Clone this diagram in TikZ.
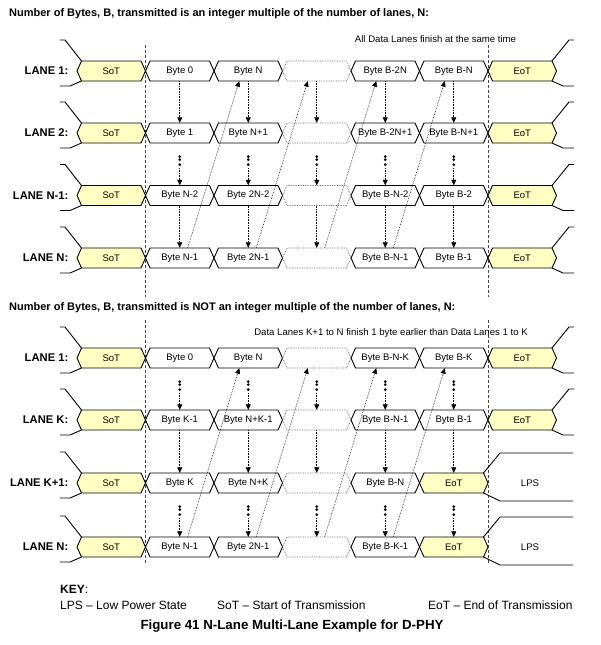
\documentclass[tikz,border=0pt]{standalone}
\usepackage{fontspec}
\setmainfont{Liberation Sans}
\usetikzlibrary{arrows.meta}
\definecolor{sotfill}{RGB}{255,255,196}
\definecolor{markline}{RGB}{70,70,70}
\definecolor{idleline}{RGB}{90,90,90}

% one lane slot: [style]{name}{x}{y}{text}
\newcommand{\bytecell}[5][cellline]{%
  \draw[#1] (#3-34.25,#4) -- ++(4.5,-10) -- ++(59.5,0) -- ++(4.5,10) -- ++(-4.5,10) -- ++(-59.5,0) -- cycle;
  \node[cellbox] (#2) at (#3,#4) {#5};%
}
% bus edges left of SoT, right of EoT, and into LPS
\newcommand{\busleft}[1]{\draw[busline] (60,#1-31) -- (65,#1-31) -- (81.5,#1-10) (81.5,#1+10) -- (70,#1+15) -- (60,#1+15);}
\newcommand{\busright}[1]{\draw[busline] (552,#1-10) -- (569,#1-31) -- (574,#1-31) (552,#1+10) -- (563,#1+15) -- (574,#1+15);}
\newcommand{\buslps}[1]{\draw[busline] (483.5,#1-10) -- (500,#1-30) -- (573,#1-30) (483.5,#1+10) -- (500,#1+18) -- (573,#1+18);}
% skipped lanes: dots, then a short arrow
\newcommand{\lanegap}[2]{%
  \fill ([yshift=-13.5pt]#1.south) circle (1.5pt) ([yshift=-16.5pt]#1.south) circle (1.5pt) ([yshift=-21.5pt]#1.south) circle (1.5pt);
  \draw[flow] ([yshift=-25pt]#1.south) -- (#2.north);%
}

\begin{document}
\begin{tikzpicture}[
    x=1pt, y=-1pt,
    >={Triangle[length=5.5pt, width=5pt]},
    cellbox/.style={minimum width=68.5pt, minimum height=20pt, inner sep=0pt, font=\fontsize{9.5}{11}\selectfont},
    cellline/.style={draw=black, line width=0.9pt},
    sotcell/.style={cellline, fill=sotfill},
    idlecell/.style={draw=idleline, densely dotted, line width=0.7pt},
    flow/.style={->, densely dotted, line width=0.6pt},
    busline/.style={line width=0.9pt},
    marker/.style={draw=markline, dash pattern=on 3pt off 2pt, line width=0.6pt},
    lanelabel/.style={anchor=east, inner sep=0pt, font=\bfseries\fontsize{11.2}{13}\selectfont},
    heading/.style={anchor=west, inner sep=0pt, font=\bfseries\fontsize{11}{13}\selectfont},
    note/.style={inner sep=0pt, font=\fontsize{9.6}{11}\selectfont},
    keytext/.style={anchor=west, inner sep=0pt, font=\fontsize{12}{14}\selectfont}
]
\useasboundingbox (0,0) rectangle (600,645);

% SoT / EoT markers
\draw[marker] (145.5,45) -- (145.5,297) (145.5,320) -- (145.5,563);
\draw[marker] (488,45) -- (488,297) (488,320) -- (488,563);

% 1. B IS A MULTIPLE OF N
\node[heading] (HEAD_TOP) at (9,14) {Number of Bytes, B, transmitted is an integer multiple of the number of lanes, N:};
\node[note] (NOTE_TOP) at (435.5,39) {All Data Lanes finish at the same time};

% Lane 1
\node[lanelabel] (TOP1_L) at (68.5,71) {LANE 1:};
\busleft{71}
\bytecell[sotcell]{TOP1_1}{111.25}{71}{SoT}
\bytecell{TOP1_2}{179.75}{71}{Byte 0}
\bytecell{TOP1_3}{248.25}{71}{Byte N}
\bytecell[idlecell]{TOP1_4}{316.75}{71}{}
\bytecell{TOP1_5}{385.25}{71}{Byte B-2N}
\bytecell{TOP1_6}{453.75}{71}{Byte B-N}
\bytecell[sotcell]{TOP1_7}{522.25}{71}{EoT}
\busright{71}

% Lane 2
\node[lanelabel] (TOP2_L) at (68.5,133) {LANE 2:};
\busleft{133}
\bytecell[sotcell]{TOP2_1}{111.25}{133}{SoT}
\bytecell{TOP2_2}{179.75}{133}{Byte 1}
\bytecell{TOP2_3}{248.25}{133}{Byte N+1}
\bytecell[idlecell]{TOP2_4}{316.75}{133}{}
\bytecell{TOP2_5}{385.25}{133}{Byte B-2N+1}
\bytecell{TOP2_6}{453.75}{133}{Byte B-N+1}
\bytecell[sotcell]{TOP2_7}{522.25}{133}{EoT}
\busright{133}

% Lane N-1
\node[lanelabel] (TOP3_L) at (68.5,195.5) {LANE N-1:};
\busleft{195.5}
\bytecell[sotcell]{TOP3_1}{111.25}{195.5}{SoT}
\bytecell{TOP3_2}{179.75}{195.5}{Byte N-2}
\bytecell{TOP3_3}{248.25}{195.5}{Byte 2N-2}
\bytecell[idlecell]{TOP3_4}{316.75}{195.5}{}
\bytecell{TOP3_5}{385.25}{195.5}{Byte B-N-2}
\bytecell{TOP3_6}{453.75}{195.5}{Byte B-2}
\bytecell[sotcell]{TOP3_7}{522.25}{195.5}{EoT}
\busright{195.5}

% Lane N
\node[lanelabel] (TOP4_L) at (68.5,258) {LANE N:};
\busleft{258}
\bytecell[sotcell]{TOP4_1}{111.25}{258}{SoT}
\bytecell{TOP4_2}{179.75}{258}{Byte N-1}
\bytecell{TOP4_3}{248.25}{258}{Byte 2N-1}
\bytecell[idlecell]{TOP4_4}{316.75}{258}{}
\bytecell{TOP4_5}{385.25}{258}{Byte B-N-1}
\bytecell{TOP4_6}{453.75}{258}{Byte B-1}
\bytecell[sotcell]{TOP4_7}{522.25}{258}{EoT}
\busright{258}

% Byte order arrows
\foreach \c in {2,...,6} {
  \draw[flow] (TOP1_\c) -- (TOP2_\c);
  \lanegap{TOP2_\c}{TOP3_\c}
  \draw[flow] (TOP3_\c) -- (TOP4_\c);
}
\foreach \c/\n in {2/3,3/4,4/5,5/6}
  \draw[flow] ([xshift=8pt]TOP4_\c.north) -- ([xshift=-9pt]TOP1_\n.south);

% 2. B IS NOT A MULTIPLE OF N
\node[heading] (HEAD_BOT) at (9,308) {Number of Bytes, B, transmitted is NOT an integer multiple of the number of lanes, N:};
\node[note] (NOTE_BOT) at (391,333) {Data Lanes K+1 to N finish 1 byte earlier than Data Lanes 1 to K};

% Lane 1
\node[lanelabel] (BOT1_L) at (68.5,358) {LANE 1:};
\busleft{358}
\bytecell[sotcell]{BOT1_1}{111.25}{358}{SoT}
\bytecell{BOT1_2}{179.75}{358}{Byte 0}
\bytecell{BOT1_3}{248.25}{358}{Byte N}
\bytecell[idlecell]{BOT1_4}{316.75}{358}{}
\bytecell{BOT1_5}{385.25}{358}{Byte B-N-K}
\bytecell{BOT1_6}{453.75}{358}{Byte B-K}
\bytecell[sotcell]{BOT1_7}{522.25}{358}{EoT}
\busright{358}

% Lane K
\node[lanelabel] (BOT2_L) at (68.5,420) {LANE K:};
\busleft{420}
\bytecell[sotcell]{BOT2_1}{111.25}{420}{SoT}
\bytecell{BOT2_2}{179.75}{420}{Byte K-1}
\bytecell{BOT2_3}{248.25}{420}{Byte N+K-1}
\bytecell[idlecell]{BOT2_4}{316.75}{420}{}
\bytecell{BOT2_5}{385.25}{420}{Byte B-N-1}
\bytecell{BOT2_6}{453.75}{420}{Byte B-1}
\bytecell[sotcell]{BOT2_7}{522.25}{420}{EoT}
\busright{420}

% Lane K+1
\node[lanelabel] (BOT3_L) at (68.5,483) {LANE K+1:};
\busleft{483}
\bytecell[sotcell]{BOT3_1}{111.25}{483}{SoT}
\bytecell{BOT3_2}{179.75}{483}{Byte K}
\bytecell{BOT3_3}{248.25}{483}{Byte N+K}
\bytecell[idlecell]{BOT3_4}{316.75}{483}{}
\bytecell{BOT3_5}{385.25}{483}{Byte B-N}
\bytecell[sotcell]{BOT3_6}{453.75}{483}{EoT}
\buslps{483}
\node[note] (LPS_3) at (530,483) {LPS};

% Lane N
\node[lanelabel] (BOT4_L) at (68.5,547) {LANE N:};
\busleft{547}
\bytecell[sotcell]{BOT4_1}{111.25}{547}{SoT}
\bytecell{BOT4_2}{179.75}{547}{Byte N-1}
\bytecell{BOT4_3}{248.25}{547}{Byte 2N-1}
\bytecell[idlecell]{BOT4_4}{316.75}{547}{}
\bytecell{BOT4_5}{385.25}{547}{Byte B-K-1}
\bytecell[sotcell]{BOT4_6}{453.75}{547}{EoT}
\buslps{547}
\node[note] (LPS_4) at (530,547) {LPS};

% Byte order arrows
\foreach \c in {2,...,6} {
  \lanegap{BOT1_\c}{BOT2_\c}
  \draw[flow] (BOT2_\c) -- (BOT3_\c);
  \lanegap{BOT3_\c}{BOT4_\c}
}
\foreach \c/\n in {2/3,3/4,4/5,5/6}
  \draw[flow] ([xshift=8pt]BOT4_\c.north) -- ([xshift=-9pt]BOT1_\n.south);

% 3. KEY
\node[keytext] (KEY) at (60,589) {\textbf{KEY}:};
\node[keytext] (KEY_LPS) at (60,605) {LPS \textendash{} Low Power State};
\node[keytext] (KEY_SOT) at (217,605) {SoT \textendash{} Start of Transmission};
\node[keytext] (KEY_EOT) at (428,605) {EoT \textendash{} End of Transmission};
\node[font=\bfseries\fontsize{13.3}{15}\selectfont, inner sep=0pt] (CAPTION) at (292,626) {Figure 41 N-Lane Multi-Lane Example for D-PHY};

\end{tikzpicture}
\end{document}
